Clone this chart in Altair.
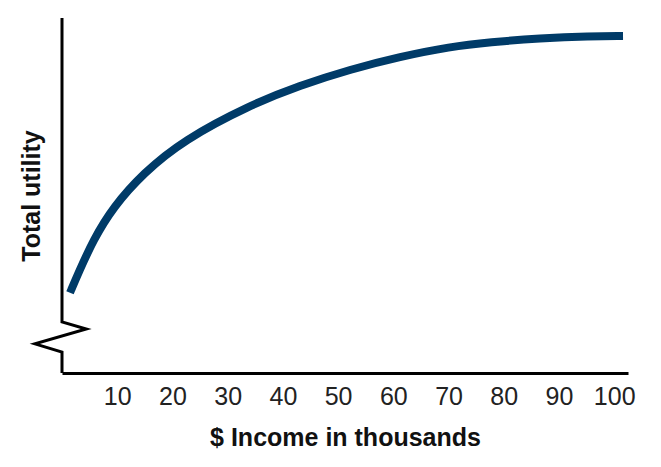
import altair as alt
import pandas as pd

# Curve values (income in $ thousands, total utility in arbitrary units 0-100)
income = [1.45, 2.95, 5.67, 9.29, 14.72, 21.97, 34.05, 43.1, 52.16, 61.21, 70.27, 77.51, 86.56, 95.62, 101.6]
utility = [22.6, 28.1, 37.5, 46.8, 56.3, 65.6, 75.5, 81.0, 85.5, 89.1, 91.9, 93.2, 94.3, 94.9, 94.9]

# Y axis drawn as a path with a break (zig-zag) near the bottom
axis_x = [0, 0, 4.4, -4.9, 0, 0]
axis_y = [100, 14.4, 12.4, 8.2, 5.9, 0]

tick_values = [10, 20, 30, 40, 50, 60, 70, 80, 90, 100]

curve_df = pd.DataFrame({"income": income, "utility": utility})
axis_df = pd.DataFrame({"x": axis_x, "y": axis_y, "order": list(range(len(axis_x)))})

FONT = "Liberation Sans"

x_scale = alt.Scale(domain=[0, 102.5], nice=False, zero=False)
y_scale = alt.Scale(domain=[0, 100], nice=False, zero=False)

curve = alt.Chart(curve_df).mark_line(
    color="#003b68", strokeWidth=8, strokeCap="butt", interpolate="basis"
).encode(
    x=alt.X("income:Q", scale=x_scale,
            axis=alt.Axis(values=tick_values, title="$ Income in thousands",
                          grid=False, ticks=False, domain=True, domainColor="black",
                          domainWidth=3, labelFontSize=25, labelColor="#222",
                          labelFont=FONT, labelPadding=11,
                          titleFont=FONT, titleFontSize=25, titleFontWeight="bold",
                          titleColor="#111", titlePadding=16)),
    y=alt.Y("utility:Q", scale=y_scale,
            axis=alt.Axis(title="Total utility", labels=False, ticks=False,
                          domain=False, grid=False,
                          titleFont=FONT, titleFontSize=25, titleFontWeight="bold",
                          titleColor="#111", titlePadding=18)),
)

axis_path = alt.Chart(axis_df).mark_line(
    color="black", strokeWidth=3, strokeJoin="miter", clip=False
).encode(
    x=alt.X("x:Q", scale=x_scale),
    y=alt.Y("y:Q", scale=y_scale),
    order="order:Q",
)

chart = alt.layer(axis_path, curve).properties(
    width=566, height=355,
    autosize=alt.AutoSizeParams(type="none"),
    padding={"left": 54, "top": 10, "right": 25, "bottom": 80},
).configure_view(stroke=None)

chart.save("out.html", embed_options={"renderer": "svg", "actions": False})
